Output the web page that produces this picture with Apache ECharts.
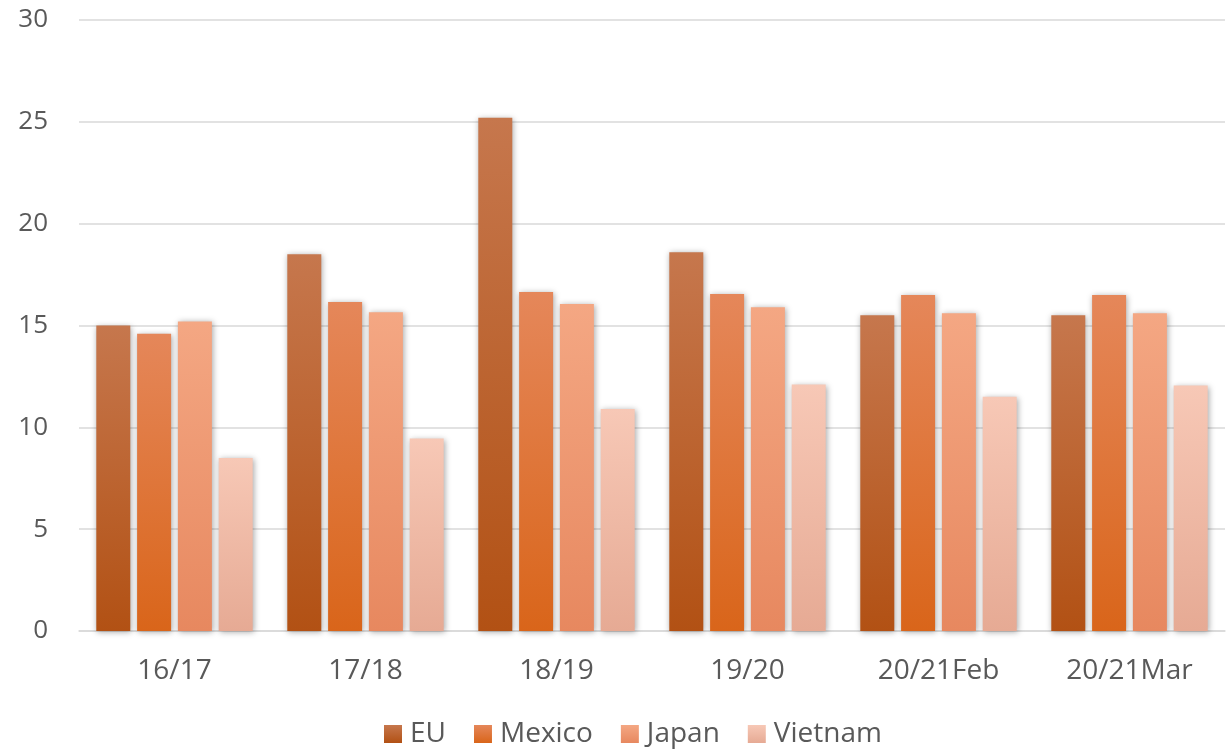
<!DOCTYPE html>
<html>
    <head>
        <meta charset="utf-8">
        <script src="https://cdn.jsdelivr.net/npm/echarts@6/dist/echarts.min.js"></script>
        <title>Bars</title>
        <style>
            html, body { margin: 0; padding: 0; background: #fff; }
            #main { position: absolute; top: 0; left: 0; width: 1229px; height: 752px; }
        </style>
    </head>
    <body>
        <div id="main"></div>
        <script type="text/javascript">
            var categories = ['16/17', '17/18', '18/19', '19/20', '20/21Feb', '20/21Mar'];
            var seriesNames = ['EU', 'Mexico', 'Japan', 'Vietnam'];
            var euValues = [15.0, 18.5, 25.2, 18.6, 15.5, 15.5];
            var mexicoValues = [14.6, 16.15, 16.65, 16.55, 16.5, 16.5];
            var japanValues = [15.2, 15.65, 16.05, 15.9, 15.6, 15.6];
            var vietnamValues = [8.5, 9.45, 10.9, 12.1, 11.5, 12.05];
            var yTicks = [0, 5, 10, 15, 20, 25, 30];

            // 渐变色：上浅下深
            var colors = [
                ['#c6774d', '#b25114'],
                ['#e5875a', '#d9651a'],
                ['#f4a783', '#e7885f'],
                ['#f7c8b6', '#e6aa94']
            ];
            function grad(c) {
                return new echarts.graphic.LinearGradient(0, 0, 0, 1, [
                    { offset: 0, color: c[0] },
                    { offset: 1, color: c[1] }
                ]);
            }

            var allValues = [euValues, mexicoValues, japanValues, vietnamValues];
            var series = seriesNames.map(function(name, i) {
                return {
                    name: name,
                    type: 'bar',
                    data: allValues[i],
                    barWidth: 34,
                    barGap: '20%',
                    itemStyle: {
                        color: grad(colors[i]),
                        shadowBlur: 6,
                        shadowColor: 'rgba(0,0,0,0.35)',
                        shadowOffsetX: 1,
                        shadowOffsetY: 1
                    }
                };
            });

            var myChart = echarts.init(document.getElementById('main'));
            var option = {
                animation: false,
                textStyle: { fontFamily: 'Open Sans' },
                grid: { left: 79, right: 4, top: 20, bottom: 121, containLabel: false },
                legend: {
                    top: 715,
                    left: 379,
                    padding: 5,
                    itemWidth: 18,
                    itemHeight: 18,
                    itemGap: 28,
                    icon: 'rect',
                    textStyle: { fontSize: 28, color: '#595959', fontFamily: 'Open Sans', padding: [0, 0, 0, 3] },
                    data: seriesNames
                },
                xAxis: {
                    type: 'category',
                    data: categories,
                    axisTick: { show: false },
                    axisLine: { lineStyle: { color: '#d9d9d9', width: 1.5 } },
                    axisLabel: { fontSize: 28, color: '#595959', margin: 26 }
                },
                yAxis: {
                    type: 'value',
                    min: yTicks[0],
                    max: yTicks[yTicks.length - 1],
                    interval: 5,
                    axisLine: { show: false },
                    axisTick: { show: false },
                    splitLine: { lineStyle: { color: '#d9d9d9', width: 1.5 } },
                    axisLabel: { fontSize: 26, color: '#595959', margin: 31 }
                },
                series: series
            };
            myChart.setOption(option);
        </script>
    </body>
</html>
